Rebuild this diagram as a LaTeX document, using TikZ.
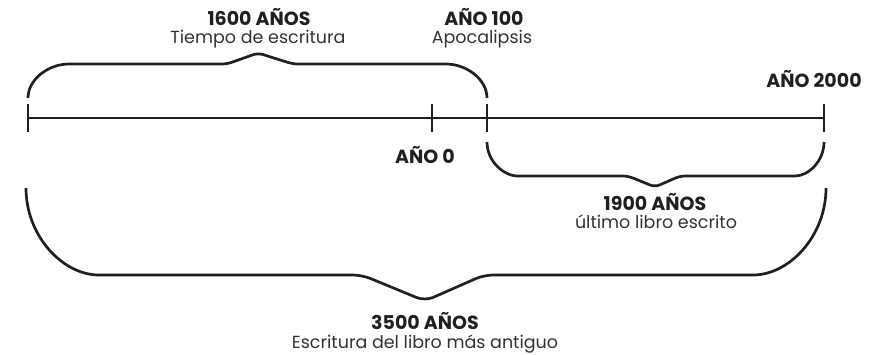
\documentclass[tikz,border=0pt]{standalone}
\usepackage{fontspec}
\setmainfont{Poppins}
\definecolor{ink}{HTML}{231F20}
\definecolor{sub}{HTML}{333333}
\begin{document}
\begin{tikzpicture}[x=1pt,y=1pt,
  line/.style={draw=ink,line width=2.9pt},
  tickmark/.style={draw=ink,line width=2.9pt},
  brace/.style={draw=ink,line width=2.7pt,rounded corners=5pt},
  head/.style={font=\bfseries\fontsize{19}{19}\selectfont,text=ink,anchor=base,inner sep=0pt},
  subt/.style={font=\fontsize{17.5}{17.5}\selectfont,text=sub,anchor=base,inner sep=0pt}]
\useasboundingbox (0,0) rectangle (883,-354);

% timeline points
\coordinate (t0) at (28,-118);
\coordinate (t1) at (432,-118);
\coordinate (t2) at (487,-118);
\coordinate (t3) at (824,-118);
\draw[line] (t0) -- (t3);
\foreach \p in {t0,t1,t2,t3}
  \draw[tickmark] ([yshift=14pt]\p) -- ([yshift=-14pt]\p);

% top brace (1600 years)
\coordinate (ba) at (28,-98);
\coordinate (bb) at (487,-98);
\draw[brace] (ba) arc[start angle=180,end angle=90,x radius=46,y radius=34]
  -- (227,-64) -- (258,-53) -- (293,-64) -- (441,-64)
  arc[start angle=90,end angle=0,x radius=46,y radius=34];

% lower small brace (1900 years)
\coordinate (ca) at (487,-142);
\coordinate (cb) at (824,-142);
\draw[brace] (ca) arc[start angle=180,end angle=270,x radius=36,y radius=34]
  -- (628,-176) -- (655,-187) -- (680,-176) -- (790,-176)
  arc[start angle=270,end angle=360,x radius=34,y radius=34];

% big brace (3500 years)
\coordinate (da) at (26,-188);
\coordinate (db) at (826,-188);
\draw[brace,rounded corners=9pt] (da) arc[start angle=180,end angle=270,x radius=82,y radius=87]
  -- (362,-275) -- (425,-301) -- (484,-275) -- (744,-275)
  arc[start angle=270,end angle=360,x radius=82,y radius=87];

% labels
\node[head] (h1600) at (259,-25) {1600 AÑOS};
\node[subt] (s1600) at (258,-43) {Tiempo de escritura};
\node[head] (h100) at (484,-25) {AÑO 100};
\node[subt] (s100) at (482,-43) {Apocalipsis};
\node[head] (h2000) at (814,-87) {AÑO 2000};
\node[head] (h0) at (425,-163) {AÑO 0};
\node[head] (h1900) at (655,-210) {1900 AÑOS};
\node[subt] (s1900) at (656,-228) {último libro escrito};
\node[head] (h3500) at (425,-329) {3500 AÑOS};
\node[subt] (s3500) at (425,-348) {Escritura del libro más antiguo};
\end{tikzpicture}
\end{document}
